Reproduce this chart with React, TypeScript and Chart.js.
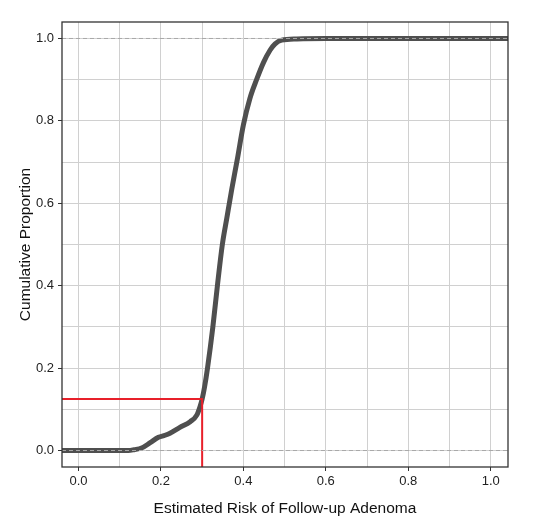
import { useEffect, useRef } from 'react';
import { Chart, registerables } from 'chart.js';

Chart.register(...registerables);

// estimated risk (x) and cumulative proportion (y)
const riskValues = [
  -0.04, 0.0, 0.1, 0.121, 0.135, 0.153, 0.174, 0.194, 0.21, 0.222, 0.246,
  0.271, 0.287, 0.295, 0.3, 0.306, 0.313, 0.326, 0.337, 0.349, 0.36, 0.372,
  0.385, 0.4, 0.416, 0.432, 0.449, 0.465, 0.477, 0.493, 0.53, 0.6,
  1.042,
];
const cumProportion = [
  0, 0, 0, 0, 0.002, 0.006, 0.019, 0.032, 0.037, 0.042, 0.056,
  0.07, 0.086, 0.107, 0.125, 0.155, 0.2, 0.3, 0.4, 0.5, 0.565, 0.635,
  0.705, 0.79, 0.855, 0.9, 0.942, 0.972, 0.987, 0.996, 0.999, 1.0,
  1.0,
];

const threshold = { risk: 0.3, proportion: 0.125 };
const referenceLines = [0, 1];
const tickValues = [0, 0.1, 0.2, 0.3, 0.4, 0.5, 0.6, 0.7, 0.8, 0.9, 1.0];

const xMin = -0.04;
const xMax = 1.042;
const yMin = -0.04;
const yMax = 1.04;

const FONT = '"Liberation Sans", Arial, sans-serif';

const isMajor = (v: number) => Math.round(v * 10) % 2 === 0;

const panelBorder = {
  id: 'panelBorder',
  afterDraw(chart: Chart) {
    const { ctx, chartArea } = chart;
    ctx.save();
    ctx.strokeStyle = '#333333';
    ctx.lineWidth = 1.3;
    ctx.strokeRect(chartArea.left, chartArea.top, chartArea.right - chartArea.left, chartArea.bottom - chartArea.top);
    ctx.restore();
  },
};

export default function App() {
  const canvasRef = useRef<HTMLCanvasElement>(null);
  const chartRef = useRef<Chart | null>(null);

  useEffect(() => {
    if (!canvasRef.current) return;
    if (chartRef.current) chartRef.current.destroy();

    const curve = riskValues.map((x, i) => ({ x, y: cumProportion[i] }));
    const redLine = [
      { x: xMin, y: threshold.proportion },
      { x: threshold.risk, y: threshold.proportion },
      { x: threshold.risk, y: yMin },
    ];

    const tickFont = {
      autoSkip: false,
      color: '#222222',
      font: { family: FONT, size: 13 },
      callback: (v: any) => (isMajor(Number(v)) ? Number(v).toFixed(1) : ''),
    };

    const axisCommon = {
      type: 'linear' as const,
      afterBuildTicks: (scale: any) => {
        scale.ticks = tickValues.map(v => ({ value: v }));
      },
      grid: {
        color: '#d0d0d0',
        lineWidth: 1,
        tickLength: 4,
        tickColor: (c: any) => (c.tick && isMajor(c.tick.value) ? '#333333' : 'rgba(0,0,0,0)'),
      },
      border: { display: false },
    };

    const titleFont = { family: FONT, size: 15.5 };

    chartRef.current = new Chart(canvasRef.current, {
      type: 'line',
      data: {
        datasets: [
          ...referenceLines.map(y => ({
            data: [{ x: xMin, y }, { x: xMax, y }],
            borderColor: '#a8a8a8',
            borderWidth: 1,
            borderDash: [4, 3],
            pointRadius: 0,
          })),
          {
            data: redLine,
            borderColor: '#e8202a',
            borderWidth: 2,
            pointRadius: 0,
          },
          {
            data: curve,
            borderColor: '#4f4f4f',
            borderWidth: 5,
            pointRadius: 0,
            cubicInterpolationMode: 'monotone' as const,
            borderCapStyle: 'round' as const,
            borderJoinStyle: 'round' as const,
          },
        ],
      },
      options: {
        animation: false,
        responsive: true,
        maintainAspectRatio: false,
        layout: { padding: { top: 22, right: 33, left: 0, bottom: 0 } },
        plugins: { legend: { display: false }, tooltip: { enabled: false } },
        scales: {
          x: {
            ...axisCommon,
            min: xMin,
            max: xMax,
            ticks: { ...tickFont, padding: 3, maxRotation: 0 },
            title: {
              display: true,
              text: 'Estimated Risk of Follow-up Adenoma',
              color: '#111111',
              font: titleFont,
              padding: { top: 8, bottom: 10 },
            },
            afterFit: (scale: any) => {
              scale.height = 61;
            },
          },
          y: {
            ...axisCommon,
            min: yMin,
            max: yMax,
            ticks: { ...tickFont, padding: 4 },
            title: {
              display: true,
              text: 'Cumulative Proportion',
              color: '#111111',
              font: titleFont,
              padding: { top: 16, bottom: 0 },
            },
            afterFit: (scale: any) => {
              scale.width = 62;
            },
          },
        },
      },
      plugins: [panelBorder],
    });

    return () => {
      if (chartRef.current) {
        chartRef.current.destroy();
        chartRef.current = null;
      }
    };
  }, []);

  return (
    <div style={{ position: 'fixed', left: 0, top: 0, width: '541px', height: '528px', background: '#fff' }}>
      <canvas ref={canvasRef}></canvas>
    </div>
  );
}
